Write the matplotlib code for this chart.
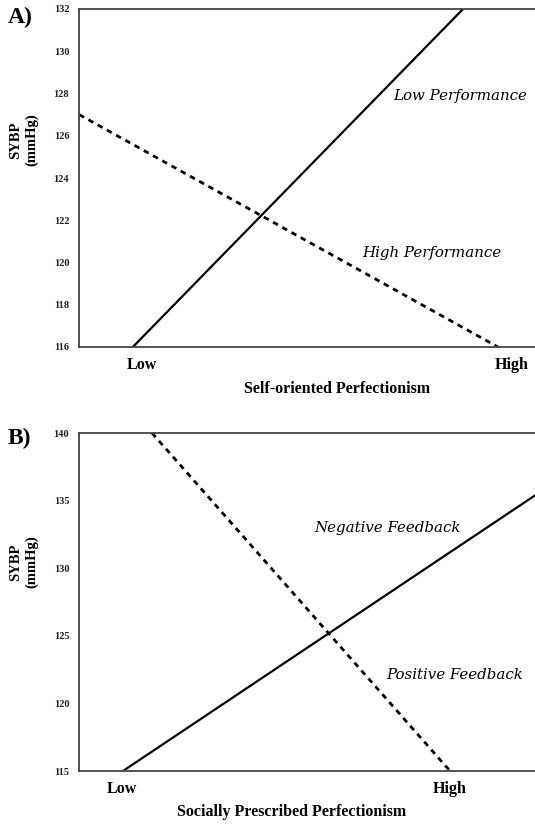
import matplotlib
matplotlib.use("Agg")
import matplotlib.pyplot as plt

# panel A: Self-oriented Perfectionism (x: Low = -1, High = +1)
a_solid_x = [-1.05, 0.735]
a_solid_y = [116, 132]
a_dash_x = [-1.34, 0.924]
a_dash_y = [127, 116]
a_yticks = [116, 118, 120, 122, 124, 126, 128, 130, 132]

# panel B: Socially Prescribed Perfectionism
b_solid_x = [-0.994, 1.52]
b_solid_y = [115, 135.4]
b_dash_x = [-0.817, 1.0]
b_dash_y = [140, 115]
b_yticks = [115, 120, 125, 130, 135, 140]

xtick_pos = [-1, 1]
xtick_lab = ["Low", "High"]

SERIF = "Liberation Serif"
ITAL = "DejaVu Serif"


def panneau(ax, sx, sy, dx, dy, yticks, xlim, titre, lettre, etiquettes):
    ax.plot(sx, sy, color="black", lw=1.6, solid_capstyle="butt")
    ax.plot(dx, dy, color="black", lw=2.0, linestyle=(0, (2.0, 1.8)))
    ax.set_xlim(*xlim)
    ax.set_ylim(yticks[0], yticks[-1])
    ax.set_yticks(yticks)
    ax.set_yticklabels([str(v) for v in yticks], fontfamily=SERIF,
                       fontweight="bold", fontsize=7.5, color="#222222")
    ax.set_xticks(xtick_pos)
    ax.set_xticklabels(xtick_lab, fontfamily=SERIF, fontweight="bold", fontsize=11.5)
    ax.tick_params(axis="y", length=0, pad=7)
    ax.tick_params(axis="x", length=0, pad=7)
    for s in ["left", "top", "bottom"]:
        ax.spines[s].set_color("#444444")
        ax.spines[s].set_linewidth(1.3)
    ax.spines["right"].set_visible(False)
    for txt, x, y in etiquettes:
        ax.text(x, y, txt, fontfamily=ITAL, style="italic", fontsize=10.8,
                ha="center", va="center")
    ax.text(titre[1], titre[2], titre[0], transform=ax.transAxes,
            fontfamily=SERIF, fontweight="bold", fontsize=11.5,
            ha="center", va="center")
    ax.text(-0.157, lettre[1], lettre[0], transform=ax.transAxes,
            fontfamily=SERIF, fontweight="bold", fontsize=17,
            ha="left", va="center")


fig = plt.figure(figsize=(5.35, 8.24), dpi=100)
ax_a = fig.add_axes([79 / 535, 1 - 347 / 824, 456 / 535, 338 / 824])
ax_b = fig.add_axes([79 / 535, 1 - 771 / 824, 456 / 535, 338 / 824])

panneau(ax_a, a_solid_x, a_solid_y, a_dash_x, a_dash_y, a_yticks, (-1.341, 1.124),
        ("Self-oriented Perfectionism", 0.566, -0.124), ("A)", 0.975),
        [("Low Performance", 0.719, 127.86), ("High Performance", 0.568, 120.47)])
panneau(ax_b, b_solid_x, b_solid_y, b_dash_x, b_dash_y, b_yticks, (-1.262, 1.518),
        ("Socially Prescribed Perfectionism", 0.467, -0.121), ("B)", 0.985),
        [("Negative Feedback", 0.622, 132.97), ("Positive Feedback", 1.03, 122.1)])

# SYBP (mmHg) labels
for yc in [1 - 140 / 824, 1 - 562 / 824]:
    fig.text(24 / 535, yc, "SYBP\n(mmHg)", rotation=90, ha="center", va="center",
             fontfamily=SERIF, fontweight="bold", fontsize=10.5, linespacing=1.25)

fig.savefig("out.png", dpi=100)
